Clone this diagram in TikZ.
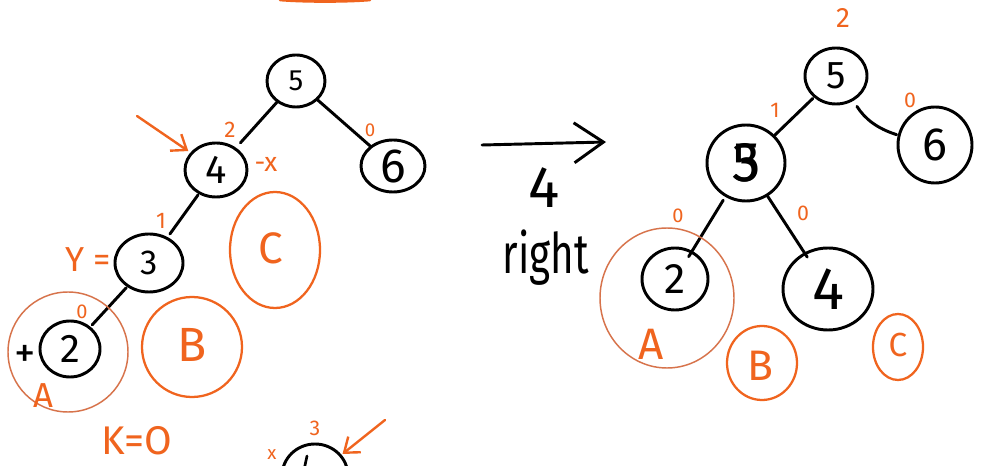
\documentclass[tikz,border=0pt]{standalone}
\usepackage{fontspec}
\usepackage{graphicx}
\setmainfont{Fira Sans}
\usetikzlibrary{shapes.geometric,arrows.meta}
\definecolor{orng}{RGB}{240,100,30}
\definecolor{orngt}{RGB}{215,115,75}
\tikzset{
  fsz/.style={font={\fontsize{#1pt}{#1pt}\selectfont}},
  sz/.style 2 args={minimum width={#1*1.5pt}, minimum height={#2*1.5pt}},
  bn/.style={ellipse, draw=black, line width=2.2pt, inner sep=0pt, outer sep=0pt},
  ed/.style={draw=black, line width=2.2pt, line cap=round},
  oc/.style={ellipse, draw=orng, line width=1.7pt, inner sep=0pt},
  oct/.style={ellipse, draw=orngt, line width=1.1pt, inner sep=0pt},
  ol/.style={text=orng, inner sep=0pt},
  oarr/.style={draw=orng, line width=1.8pt, line cap=round, -{Straight Barb[length=10pt,width=15pt]}},
  bigarr/.style={draw=black, line width=2.2pt, line cap=round, -{Straight Barb[length=22pt,width=30pt]}},
}
\begin{document}
\begin{tikzpicture}[x=0.75pt,y=-0.75pt]
\useasboundingbox (0,0) rectangle (993,466);
\clip (0,0) rectangle (993,466);
\fill[white] (0,0) rectangle (993,466);

% top smear
\draw[orng, line width=2pt, line cap=round] (280,0) .. controls (305,2) and (345,2) .. (370,0);

% ---------- left tree ----------
\node[bn, sz={29}{26}, fsz=22] (L5) at (296,81) {5};
\node[bn, sz={31}{27}, fsz=30] (L4) at (216,170) {4};
\node[bn, sz={32}{26}, fsz=36] (L6) at (393,166) {6};
\node[bn, sz={34}{29}, fsz=26] (L3) at (149,263) {3};
\node[bn, sz={30}{28}, fsz=30] (L2) at (70,349) {2};

\draw[ed, shorten <=1pt, shorten >=6pt] (L5) -- (L4);
\draw[ed, shorten <=1pt, shorten >=1pt] (L5) -- (L6);
\draw[ed, shorten <=2pt, shorten >=4pt] (L4) -- (L3);
\draw[ed, shorten <=2pt, shorten >=3pt] (L3) -- (L2);

\node[oct, sz={60}{60}] (LA) at (68,352) {};
\node[oc, sz={50}{50}] (LB) at (192,347) {};
\node[oc, sz={45}{58}] (LC) at (275,250) {};

\node[ol, fsz=26] (tLA) at (43,396) {A};
\node[ol, fsz=36] (tLB) at (192,345) {B};
\node[ol, fsz=33] (tLC) at (271,248) {C};

\node[ol, fsz=17] (h4) at (230,130) {2};
\node[ol, fsz=14] (h6) at (370,130) {0};
\node[ol, fsz=20] (xl) at (266,164) {-x};
\node[ol, fsz=17] (h3) at (161,221) {1};
\node[ol, fsz=26] (yl) at (88,260) {Y =};
\node[ol, fsz=15] (h2) at (82,312) {0};
\node[inner sep=0pt, fsz=32] (plus) at (25,356) {+};
\node[ol, fsz=30] (kl) at (137,441) {K=O};

\coordinate (a1) at (137,116);
\draw[oarr, shorten >=3pt] (a1) -- (L4);

% bottom partial node
\node[bn, sz={33}{32}] (LX) at (315,476) {};
\draw[line width=2pt, line cap=round] (307,456) -- (304,470);
\node[ol, fsz=16] (h3b) at (315,428) {3};
\node[ol, fsz=14] (xb) at (272,455) {x};
\coordinate (a2) at (385,420);
\draw[oarr, shorten >=2pt] (a2) -- (LX);

% ---------- middle arrow ----------
\coordinate (m1) at (482,145);
\coordinate (m2) at (606,142);
\draw[bigarr] (m1) -- (m2);
\node[inner sep=0pt, fsz=44] (t4) at (544,188) {4};
\node[inner sep=0pt, fsz=42] (tr) at (546,258) {\scalebox{0.72}[1]{right}};

% ---------- right tree ----------
\node[bn, sz={31}{28}, fsz=29] (R5) at (836,76) {5};
\node[bn, sz={39}{38}, fsz=42] (R3) at (746,163) {\makebox[0pt]{3}\makebox[0pt]{5}};
\node[bn, sz={37}{38}, fsz=35] (R6) at (935,145) {6};
\node[bn, sz={33}{31}, fsz=32] (R2) at (675,279) {2};
\node[bn, sz={45}{41}, fsz=45] (R4) at (828,289) {4};

\draw[ed, shorten <=2pt, shorten >=1pt] (R5) -- (R3);
\draw[ed, shorten <=6pt, shorten >=2pt] (R5) to[bend right=20] (R6);
\draw[ed, shorten <=4pt, shorten >=-4pt] (R3) -- (R2);
\draw[ed, shorten <=1pt, shorten >=-3pt] (R3) -- (R4);

\node[oct, sz={67}{70}] (RA) at (667,298) {};
\node[oc, sz={35}{37}] (RB) at (762,363) {};
\node[oc, sz={25}{33}] (RC) at (898,347) {};

\node[ol, fsz=33] (tRA) at (651,344) {A};
\node[ol, fsz=32] (tRB) at (760,366) {B};
\node[ol, fsz=25] (tRC) at (898,345) {C};

\node[ol, fsz=21] (hR5) at (843,18) {2};
\node[ol, fsz=16] (hR3) at (775,110) {1};
\node[ol, fsz=16] (hR6) at (910,100) {0};
\node[ol, fsz=15] (hR2) at (678,216) {0};
\node[ol, fsz=16] (hR4) at (803,213) {0};
\end{tikzpicture}
\end{document}
